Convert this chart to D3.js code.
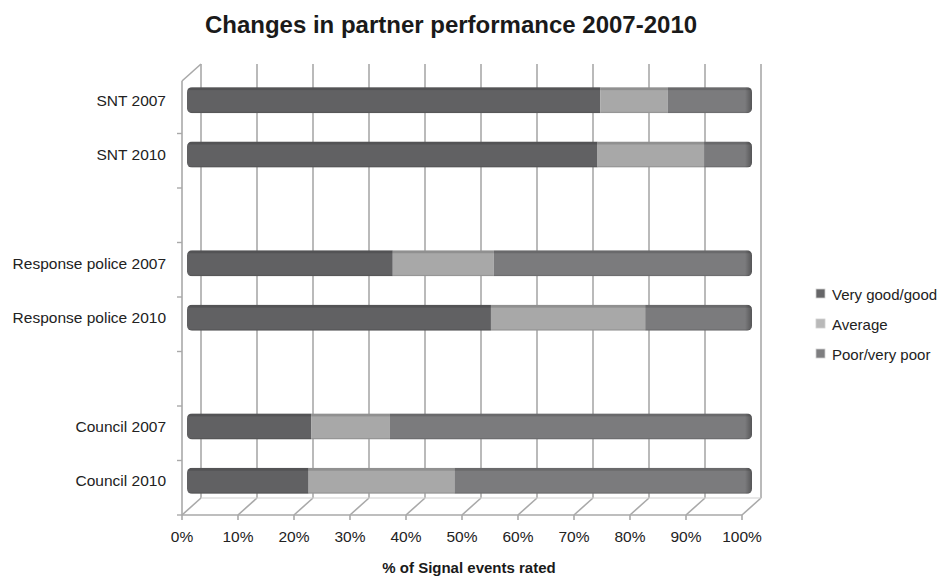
<!DOCTYPE html>
<html>
<head>
<meta charset="utf-8">
<script src="https://cdn.jsdelivr.net/npm/d3@7"></script>
<style>
  body { margin: 0; background: #fff; }
  svg { display: block; font-family: "Liberation Sans", Arial, sans-serif; }
</style>
</head>
<body>
<svg id="chart" width="945" height="577"></svg>
<script>
// category slots, top to bottom (gaps are empty rows in the chart)
var slots = ['SNT 2007', 'SNT 2010', 'gap1', 'Response police 2007', 'Response police 2010', 'gap2', 'Council 2007', 'Council 2010'];
var categories = ['SNT 2007', 'SNT 2010', 'Response police 2007', 'Response police 2010', 'Council 2007', 'Council 2010'];
var seriesNames = ['Very good/good', 'Average', 'Poor/very poor'];
var veryGood = [73.5, 73, 36.5, 54, 22, 21.5];
var average = [12, 19, 18, 27.5, 14, 26];
var poor = [14.5, 8, 45.5, 18.5, 64, 52.5];
var xTicks = [0, 10, 20, 30, 40, 50, 60, 70, 80, 90, 100];

var colors = ['#616163', '#a8a8a8', '#7b7b7d'];
var legendColors = ['#666668', '#b9b9b9', '#7e7e80'];

var svg = d3.select('#chart');

// 3d box geometry
var depth = { dx: 19, dy: -17 };
var front = { left: 182, right: 742, top: 81, bottom: 515 };

var xFront = d3.scaleLinear().domain([0, 100]).range([front.left, front.right]);
var xBar = d3.scaleLinear().domain([0, 100]).range([188, 749]);
var yWall = d3.scaleBand().domain(slots).range([front.top - 2, front.bottom]);
var yBar = d3.scaleBand().domain(slots).range([73, 508]).paddingInner(0.52).paddingOuter(0.26);

var gridColor = '#a9a9a9';

// title
svg.append('text')
  .attr('x', 451).attr('y', 33)
  .attr('text-anchor', 'middle')
  .style('font-size', '24px').style('font-weight', 'bold').style('fill', '#1a1a1a')
  .text('Changes in partner performance 2007-2010');

var walls = svg.append('g').attr('class', 'walls');

// back wall vertical gridlines
walls.selectAll('.grid-line')
  .data(xTicks)
  .enter().append('line')
  .attr('class', 'grid-line')
  .attr('x1', function(d) { return xFront(d) + depth.dx; })
  .attr('x2', function(d) { return xFront(d) + depth.dx; })
  .attr('y1', front.top + depth.dy)
  .attr('y2', front.bottom + depth.dy)
  .style('stroke', gridColor).style('stroke-width', 1.6);

// floor gridlines, front to back
walls.selectAll('.floor-line')
  .data(xTicks)
  .enter().append('line')
  .attr('class', 'floor-line')
  .attr('x1', function(d) { return xFront(d); })
  .attr('x2', function(d) { return xFront(d) + depth.dx; })
  .attr('y1', front.bottom)
  .attr('y2', front.bottom + depth.dy)
  .style('stroke', gridColor).style('stroke-width', 1.6);

// floor front edge and back edge
walls.append('line')
  .attr('x1', front.left).attr('x2', front.right)
  .attr('y1', front.bottom).attr('y2', front.bottom)
  .style('stroke', gridColor).style('stroke-width', 1.6);
walls.append('line')
  .attr('x1', front.left + depth.dx).attr('x2', front.right + depth.dx)
  .attr('y1', front.bottom + depth.dy).attr('y2', front.bottom + depth.dy)
  .style('stroke', '#cfcfcf').style('stroke-width', 1);

// side wall: front edge and top edge
walls.append('line')
  .attr('x1', front.left).attr('x2', front.left)
  .attr('y1', front.top).attr('y2', front.bottom)
  .style('stroke', gridColor).style('stroke-width', 1.6);
walls.append('line')
  .attr('x1', front.left).attr('x2', front.left + depth.dx)
  .attr('y1', front.top).attr('y2', front.top + depth.dy)
  .style('stroke', gridColor).style('stroke-width', 1.6);

// x axis ticks
walls.selectAll('.x-tick')
  .data(xTicks)
  .enter().append('line')
  .attr('class', 'x-tick')
  .attr('x1', function(d) { return xFront(d); })
  .attr('x2', function(d) { return xFront(d); })
  .attr('y1', front.bottom).attr('y2', front.bottom + 5)
  .style('stroke', gridColor).style('stroke-width', 1.6);

// category ticks on side wall
var boundaries = slots.map(function(s) { return yWall(s); }).concat([front.bottom]);
walls.selectAll('.y-tick')
  .data(boundaries.slice(1))
  .enter().append('line')
  .attr('class', 'y-tick')
  .attr('x1', front.left - 5).attr('x2', front.left)
  .attr('y1', function(d) { return d; })
  .attr('y2', function(d) { return d; })
  .style('stroke', gridColor).style('stroke-width', 1.4);

// x tick labels
svg.selectAll('.x-label')
  .data(xTicks)
  .enter().append('text')
  .attr('class', 'x-label')
  .attr('x', function(d) { return xFront(d); })
  .attr('y', 542)
  .attr('text-anchor', 'middle')
  .style('font-size', '15.5px').style('fill', '#222')
  .text(function(d) { return d + '%'; });

// x axis title
svg.append('text')
  .attr('x', 469).attr('y', 573)
  .attr('text-anchor', 'middle')
  .style('font-size', '15px').style('font-weight', 'bold').style('fill', '#1a1a1a')
  .text('% of Signal events rated');

// category labels
svg.selectAll('.y-label')
  .data(categories)
  .enter().append('text')
  .attr('class', 'y-label')
  .attr('x', 166)
  .attr('y', function(d) { return yBar(d) + yBar.bandwidth() / 2 + 5.5; })
  .attr('text-anchor', 'end')
  .style('font-size', '15.5px').style('fill', '#222')
  .text(function(d) { return d; });

// stacked bars
var rows = categories.map(function(c, i) {
  return { name: c, values: [veryGood[i], average[i], poor[i]] };
});

var defs = svg.append('defs');
var capGrad = defs.append('linearGradient').attr('id', 'cap').attr('x1', 0).attr('x2', 1);
capGrad.append('stop').attr('offset', '0%').style('stop-color', '#000').style('stop-opacity', 0);
capGrad.append('stop').attr('offset', '100%').style('stop-color', '#000').style('stop-opacity', 0.35);

var bh = yBar.bandwidth();
var bars = svg.append('g').attr('class', 'bars');

rows.forEach(function(row, i) {
  var y = yBar(row.name);
  var clipId = 'clip' + i;
  defs.append('clipPath').attr('id', clipId)
    .append('rect')
    .attr('x', xBar(0) - 1).attr('y', y)
    .attr('width', xBar(100) - xBar(0) + 4).attr('height', bh)
    .attr('rx', 5).attr('ry', 5);

  var g = bars.append('g').attr('clip-path', 'url(#' + clipId + ')');
  var acc = 0;
  row.values.forEach(function(v, k) {
    var x0 = acc, x1 = acc + v;
    acc = x1;
    g.append('rect')
      .attr('x', k === 0 ? xBar(x0) - 2 : xBar(x0))
      .attr('y', y)
      .attr('width', xBar(x1) - xBar(x0) + (k === 2 ? 6 : 0) + (k === 0 ? 2 : 0))
      .attr('height', bh)
      .style('fill', colors[k]);
  });
  // top face strip
  g.append('rect')
    .attr('x', xBar(0) - 2).attr('y', y)
    .attr('width', xBar(100) - xBar(0) + 8).attr('height', 3)
    .style('fill', '#000').style('opacity', 0.14);
  // bottom edge
  g.append('rect')
    .attr('x', xBar(0) - 2).attr('y', y + bh - 1.5)
    .attr('width', xBar(100) - xBar(0) + 8).attr('height', 1.5)
    .style('fill', '#000').style('opacity', 0.1);
  // right end cap
  g.append('rect')
    .attr('x', xBar(100) - 4).attr('y', y)
    .attr('width', 8).attr('height', bh)
    .style('fill', 'url(#cap)');
});

// legend
var legend = svg.append('g').attr('class', 'legend')
  .selectAll('g')
  .data(seriesNames)
  .enter().append('g')
  .attr('transform', function(d, i) { return 'translate(816,' + (294 + i * 30) + ')'; });

legend.append('rect')
  .attr('x', 0).attr('y', -5)
  .attr('width', 9).attr('height', 9)
  .style('fill', function(d, i) { return legendColors[i]; })
  .style('stroke', '#d0d0d0').style('stroke-width', 0.8);

legend.append('text')
  .attr('x', 16).attr('y', 5.5)
  .style('font-size', '15px').style('fill', '#222')
  .text(function(d) { return d; });
</script>
</body>
</html>
